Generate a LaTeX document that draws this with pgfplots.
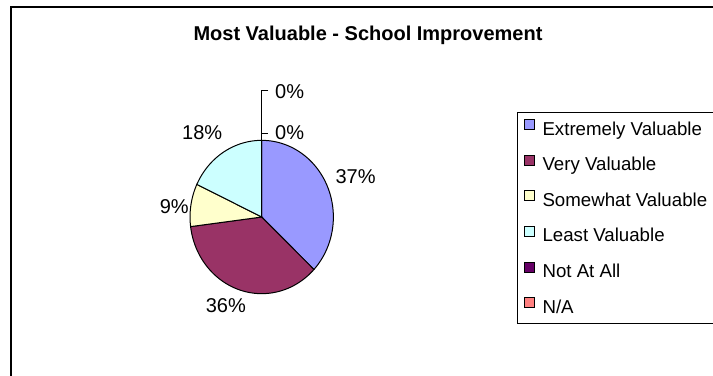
\documentclass[border=0pt]{standalone}
\usepackage{pgfplots}
\pgfplotsset{compat=1.18}
\usepackage{fontspec}
\setmainfont{Liberation Sans}
\definecolor{cEV}{HTML}{9999FF}
\definecolor{cVV}{HTML}{993366}
\definecolor{cSV}{HTML}{FFFFCC}
\definecolor{cLV}{HTML}{CCFFFF}
\definecolor{cNA}{HTML}{660066}
\definecolor{cN}{HTML}{FF8080}
% #1 = cumulative share before this slice, #2 = share (%), #3 = colour
\newcommand{\pieslice}[3]{%
  \pgfmathsetmacro\sa{90-3.6*(#1+#2)}%
  \pgfmathsetmacro\ea{90-3.6*#1}%
  \edef\doslice{\noexpand\addplot[draw=black, line width=0.75pt, fill=#3, domain=\sa:\ea, samples=90, forget plot] ({cos(x)},{sin(x)}) -- (axis cs:0,0) -- cycle;}%
  \doslice}
\begin{document}
\begin{tikzpicture}
\useasboundingbox (0,0) rectangle (534.75pt,-281.25pt);
\clip (0,0) rectangle (534.75pt,-281.25pt);
\fill[white] (0,0) rectangle (534.75pt,-281.25pt);
\begin{scope}[x=0.75pt,y=-0.75pt]
  \draw[black, line width=1.4pt] (11,720) -- (11,7) -- (760,7);
  \node[anchor=base, font=\fontsize{15}{18}\selectfont\bfseries, inner sep=0pt] at (368,40) {Most Valuable - School Improvement};
\end{scope}
\begin{axis}[
  at={(261.7*0.75pt,-217*0.75pt)}, anchor=center,
  scale only axis, width=107.5pt, height=115pt,
  xmin=-1, xmax=1, ymin=-1, ymax=1,
  hide axis, clip=false,
  legend image code/.code={\draw[#1, line width=0.6pt] (0pt,0pt) rectangle (7.5pt,7.5pt);},
  legend cell align=left,
  legend style={at={(2.283,1.185)}, anchor=north west, draw=black, line width=0.7pt,
    font=\fontsize{14}{16}\selectfont,
    nodes={inner sep=0pt, text height=11.25pt, text depth=3pt},
    row sep=11.8pt, column sep=6pt, inner xsep=4.5pt, inner ysep=5pt},
]
\pieslice{0}{37}{cEV}
\pieslice{37}{36}{cVV}
\pieslice{73}{9}{cSV}
\pieslice{82}{18}{cLV}
\addlegendimage{fill=cEV, draw=black}
\addlegendentry{Extremely Valuable}
\addlegendimage{fill=cVV, draw=black}
\addlegendentry{Very Valuable}
\addlegendimage{fill=cSV, draw=black}
\addlegendentry{Somewhat Valuable}
\addlegendimage{fill=cLV, draw=black}
\addlegendentry{Least Valuable}
\addlegendimage{fill=cNA, draw=black}
\addlegendentry{Not At All}
\addlegendimage{fill=cN, draw=black}
\addlegendentry{N/A}
% leader lines for the two 0% slices
\draw[black, line width=0.6pt] (axis cs:0.093,1.65) -- (axis cs:0,1.65) -- (axis cs:0,1);
\draw[black, line width=0.6pt] (axis cs:0,1.09) -- (axis cs:0.093,1.09);
\begin{scope}[every node/.style={font=\fontsize{15}{17}\selectfont, inner sep=0pt}]
\node at (axis cs:1.31,0.53) {37\%};
\node at (axis cs:-0.50,-1.16) {36\%};
\node at (axis cs:-1.22,0.14) {9\%};
\node at (axis cs:-0.83,1.10) {18\%};
\node at (axis cs:0.39,1.10) {0\%};
\node at (axis cs:0.39,1.64) {0\%};
\end{scope}
\end{axis}
\end{tikzpicture}
\end{document}
